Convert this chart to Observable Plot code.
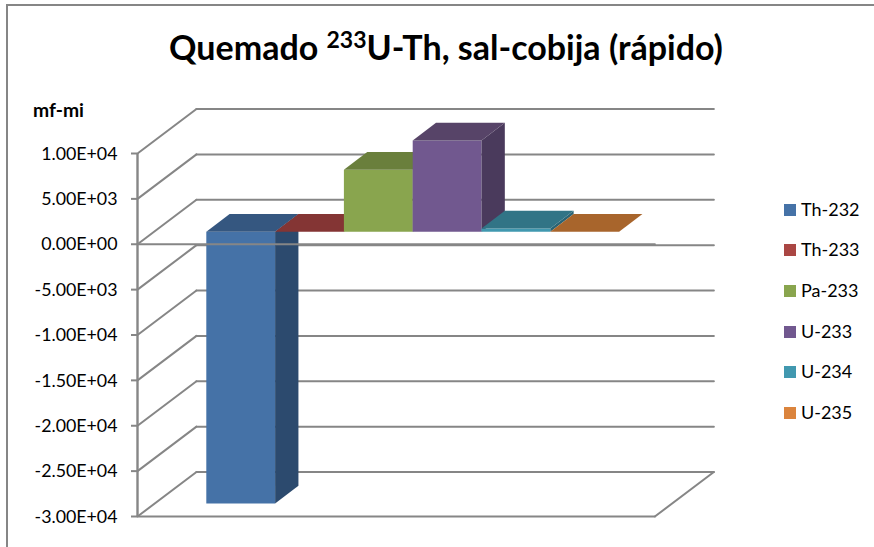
<!DOCTYPE html>
<html>
<head>
<meta charset="utf-8">
<script src="https://cdn.jsdelivr.net/npm/d3@7"></script>
<script src="https://cdn.jsdelivr.net/npm/@observablehq/plot@0.6"></script>
<style>
html,body{margin:0;padding:0;background:#fff}
#chart{position:relative;width:874px;height:547px;overflow:hidden;font-family:Lato,sans-serif;color:#000}
#frame{position:absolute;left:6px;top:4px;width:880px;height:560px;border-left:2px solid #868686;border-top:2px solid #868686}
#title{position:absolute;left:7px;width:878px;top:23px;text-align:center;font-weight:700;font-size:34px;line-height:48px;white-space:nowrap}
#title sup{font-size:23px;line-height:0;vertical-align:baseline;position:relative;top:-12px}
#ylabel{position:absolute;left:33px;top:100px;font-weight:700;font-size:19.3px;line-height:20px}
#plot{position:absolute;left:0;top:0}
.lg{position:absolute;left:784px;height:20px}
.lg i{position:absolute;left:0;top:4px;width:12px;height:12px}
.lg span{position:absolute;left:17px;top:-1px;font-size:18px;line-height:20px;white-space:nowrap}
</style>
</head>
<body>
<div id="chart"><div id="frame"></div><div id="plot"></div>
<div id="title">Quemado <sup>233</sup>U-Th, sal-cobija (rápido)</div>
<div id="ylabel">mf-mi</div></div>
<script>
const categories = ["Th-232","Th-233","Pa-233","U-233","U-234","U-235"];
const values = [-29950, 0, 6830, 10050, 360, 0];
const tickValues = [10000,5000,0,-5000,-10000,-15000,-20000,-25000,-30000];
const tickLabels = ["1.00E+04","5.00E+03","0.00E+00","-5.00E+03","-1.00E+04","-1.50E+04","-2.00E+04","-2.50E+04","-3.00E+04"];
const frontColors = ["#4572A7","#AA4643","#89A54E","#71588F","#4198AF","#DB843D"];
const topColors   = ["#355780","#843534","#6A7F3C","#574468","#317486","#A8652C"];
const sideColors  = ["#2C4A6E","#6F2C2B","#596B32","#4A3A5C","#2A6474","#8E5525"];

// Oblique projection, in data units: one bar width across, value units up.
const floorWidth = 7.52;           // front edge of the floor, in bar widths
const wall = {dx: 0.857, dy: 4900};   // front plane to back wall
const barPlane = {dx: 1.0, dy: 1380}, barDepth = {dx: 0.339, dy: 1950};
const domainX = [0, 10.712];

const poly = [], pid = {n:0};
function face(pts, fill){ const id = pid.n++; pts.forEach(p => poly.push({x:p[0], y:p[1], id, fill})); }
categories.forEach((c,i) => {
  const x0 = barPlane.dx + i, x1 = x0 + 1, b = barPlane.dy, v = values[i];
  const lo = Math.min(0,v) + b, hi = Math.max(0,v) + b;
  const dx = barDepth.dx, dy = barDepth.dy;
  face([[x0,lo],[x1,lo],[x1,hi],[x0,hi]], frontColors[i]);
  face([[x1,lo],[x1+dx,lo+dy],[x1+dx,hi+dy],[x1,hi]], sideColors[i]);
  face([[x0,hi],[x1,hi],[x1+dx,hi+dy],[x0+dx,hi+dy]], topColors[i]);
});

const gridLines = [], lid = {n:0};
function seg(a,b){ const id = lid.n++; gridLines.push({x:a[0],y:a[1],id},{x:b[0],y:b[1],id}); }
tickValues.forEach(v => {
  seg([0,v],[wall.dx,v+wall.dy]);
  seg([wall.dx,v+wall.dy],[wall.dx+floorWidth,v+wall.dy]);
});
seg([0,-30000],[floorWidth,-30000]);
seg([floorWidth,-30000],[floorWidth+wall.dx,-30000+wall.dy]);
const zeroLine = [{x:0,y:0},{x:floorWidth,y:0}];

const chart = Plot.plot({
  width: 874, height: 547,
  marginLeft: 137, marginRight: 0, marginTop: 153, marginBottom: 31,
  style: {background:"transparent", fontFamily:"Lato,sans-serif", fontSize:"17.8px", color:"#000", overflow:"visible"},
  x: {domain: domainX, axis: null},
  y: {domain: [-30000,10000], label: null, axis: null},
  marks: [
    Plot.line(gridLines, {x:"x", y:"y", z:"id", stroke:"#868686", strokeWidth:2}),
    Plot.axisY({ticks: tickValues, tickFormat: () => "", label:null, tickSize:6, stroke:"#868686", strokeWidth:2, strokeOpacity:1}),
    Plot.axisY({ticks: tickValues, tickFormat: d => tickLabels[tickValues.indexOf(d)], label:null, tickSize:0, tickPadding:20, dy:0.5, fill:"#000"}),
    Plot.ruleX([0], {y1:-30000, y2:10000, stroke:"#868686", strokeWidth:2.4}),
    Plot.line(poly, {x:"x", y:"y", z:"id", fill:"fill", stroke:"none", curve:"linear-closed"}),
    Plot.line(zeroLine, {x:"x", y:"y", stroke:"#868686", strokeWidth:2})
  ]
});
document.getElementById("plot").appendChild(chart);

const legendTops = [200,240,281,321.5,362,403];
const root = document.getElementById("chart");
categories.forEach((c,i) => {
  const d = document.createElement("div");
  d.className = "lg"; d.style.top = legendTops[i]+"px";
  const s = document.createElement("i"); s.style.background = frontColors[i];
  const t = document.createElement("span"); t.textContent = c;
  d.append(s,t); root.appendChild(d);
});
</script>
</body>
</html>
